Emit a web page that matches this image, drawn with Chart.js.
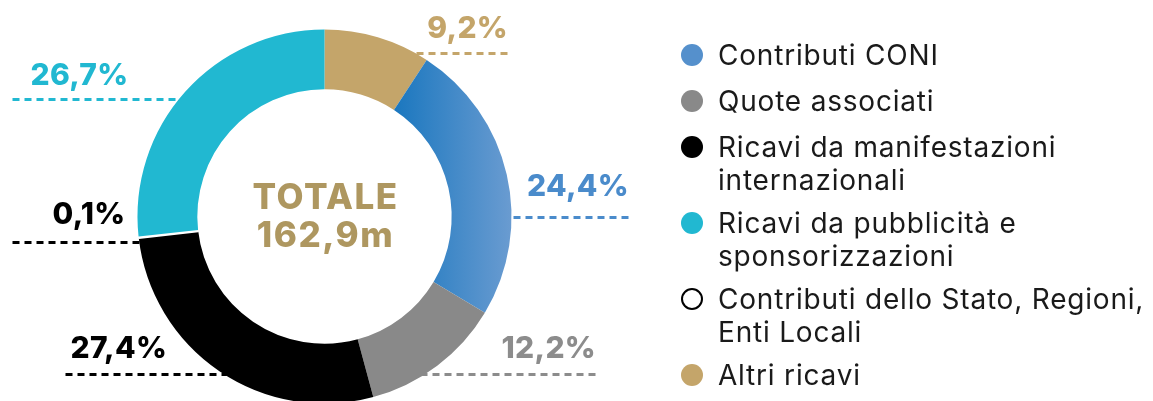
<!DOCTYPE html>
<html>
<head>
<meta charset="utf-8">
<script src="https://cdn.jsdelivr.net/npm/chart.js@4"></script>
<style>
    html, body { margin: 0; padding: 0; overflow: hidden; background: #fff; }
    #wrap { position: relative; width: 1153px; height: 440px; }
</style>
</head>
<body>
<div id="wrap"><canvas id="ricavi"></canvas></div>
<script>
// Data, clockwise from 12 o'clock
const categories = [
    ['Altri ricavi'],
    ['Contributi CONI'],
    ['Quote associati'],
    ['Ricavi da manifestazioni', 'internazionali'],
    ['Contributi dello Stato, Regioni,', 'Enti Locali'],
    ['Ricavi da pubblicità e', 'sponsorizzazioni']
];
const shares = [9.2, 24.4, 12.2, 27.4, 0.1, 26.7];
const shareLabels = ['9,2%', '24,4%', '12,2%', '27,4%', '0,1%', '26,7%'];
const legendOrder = [1, 2, 3, 5, 4, 0];
const totalLines = ['TOTALE', '162,9m'];

const sliceColors = ['#c4a56a', '#4f8ccb', '#898989', '#000000', '#ffffff', '#21b8d1'];
const textColors = ['#c4a56a', '#4a8bcb', '#8c8c8c', '#000000', '#000000', '#21b8d1'];
const legendColors = ['#c4a56a', '#5590cc', '#898989', '#000000', '#ffffff', '#21b8d1'];

// where each callout sits, relative to the donut centre (px)
const callouts = [
    { dy: -164, end: 183,  textX: null, gap: 15 },
    { dy: 0,    end: 304,  textX: null, gap: 21 },
    { dy: 157,  end: 271,  textX: null, gap: 16 },
    { dy: 157,  end: -259, textX: -254, gap: 16 },
    { dy: 25,   end: -312, textX: -272, gap: 18 },
    { dy: -118, end: -312, textX: -294, gap: 14 }
];

const FONT = 'Inter, "Noto Sans", sans-serif';

const calloutPlugin = {
    id: 'callouts',
    beforeDatasetsDraw(chart) {
        const arc = chart.getDatasetMeta(0).data[0];
        const { x: cx, y: cy, outerRadius: r } = arc.getProps(['x', 'y', 'outerRadius'], true);
        const ctx = chart.ctx;
        ctx.save();
        ctx.lineWidth = 3;
        ctx.setLineDash([7, 5]);
        callouts.forEach((c, i) => {
            const y = Math.round(cy + c.dy) + 0.5;
            const edge = Math.sqrt(Math.max(r * r - c.dy * c.dy, 0));
            const side = Math.sign(c.end);
            ctx.strokeStyle = textColors[i];
            ctx.beginPath();
            ctx.moveTo(cx + c.end, y);
            ctx.lineTo(cx + side * (edge - 4), y);
            ctx.stroke();
        });
        ctx.restore();
    },
    afterDatasetsDraw(chart) {
        const arc = chart.getDatasetMeta(0).data[0];
        const { x: cx, y: cy } = arc.getProps(['x', 'y'], true);
        const ctx = chart.ctx;
        ctx.save();
        ctx.font = '800 30px ' + FONT;
        ctx.letterSpacing = '0.3px';
        ctx.textBaseline = 'alphabetic';
        callouts.forEach((c, i) => {
            const y = Math.round(cy + c.dy) - c.gap;
            ctx.fillStyle = textColors[i];
            if (c.textX === null) {
                ctx.textAlign = 'right';
                ctx.fillText(shareLabels[i], cx + c.end + 0.5, y);
            } else {
                ctx.textAlign = 'left';
                ctx.fillText(shareLabels[i], cx + c.textX, y);
            }
        });

        // centre total
        ctx.fillStyle = '#ae9760';
        ctx.textAlign = 'center';
        ctx.font = '800 35px ' + FONT;
        ctx.letterSpacing = '1.5px';
        ctx.fillText(totalLines[0], cx + 1, cy - 8);
        ctx.fillText(totalLines[1], cx + 1, cy + 30);

        // legend on the right
        let y = 55;
        ctx.letterSpacing = '0.8px';
        legendOrder.forEach(i => {
            ctx.beginPath();
            ctx.arc(692, y, 11, 0, Math.PI * 2);
            ctx.fillStyle = legendColors[i];
            ctx.fill();
            if (i === 4) {
                ctx.lineWidth = 2;
                ctx.strokeStyle = '#000';
                ctx.beginPath();
                ctx.arc(692, y, 10, 0, Math.PI * 2);
                ctx.stroke();
            }
            ctx.fillStyle = '#1a1a1a';
            ctx.textAlign = 'left';
            ctx.font = '28px ' + FONT;
            categories[i].forEach((line, k) => {
                ctx.fillText(line, 718, y + 10 + k * 33);
            });
            y += 46 + (categories[i].length - 1) * 30;
        });
        ctx.restore();
    }
};

document.addEventListener('DOMContentLoaded', () => {
    new Chart(document.getElementById('ricavi'), {
        type: 'doughnut',
        data: {
            labels: categories,
            datasets: [{
                data: shares,
                backgroundColor: (ctx) => {
                    if (ctx.dataIndex !== 1) return sliceColors[ctx.dataIndex];
                    const area = ctx.chart.chartArea;
                    if (!area) return sliceColors[1];
                    const cx = (area.left + area.right) / 2;
                    const r = (area.right - area.left) / 2;
                    const g = ctx.chart.ctx.createLinearGradient(cx + 0.37 * r, 0, cx + r, 0);
                    g.addColorStop(0, '#1a77bf');
                    g.addColorStop(1, '#6b9cd1');
                    return g;
                },
                borderColor: '#ffffff',
                borderWidth: [0, 0, 0, 0, 3, 0],
                hoverOffset: 0,
                hoverBorderWidth: 0
            }]
        },
        options: {
            responsive: true,
            maintainAspectRatio: false,
            animation: false,
            cutout: '68%',
            layout: { padding: { left: 136, right: 640, top: 28, bottom: 35 } },
            plugins: {
                legend: { display: false },
                tooltip: { enabled: false }
            }
        },
        plugins: [calloutPlugin]
    });
});
</script>
</body>
</html>
